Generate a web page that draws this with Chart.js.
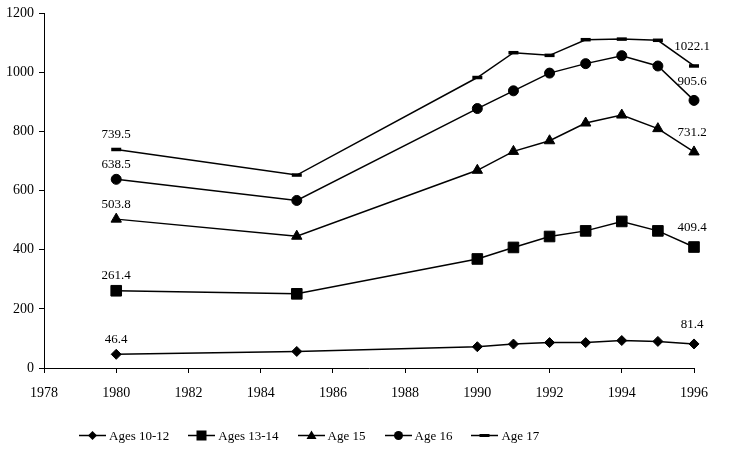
<!DOCTYPE html>
<html>
<head>
<meta charset="utf-8">
<script src="https://cdn.jsdelivr.net/npm/chart.js@4.4.0/dist/chart.umd.min.js"></script>
<style>
  body { margin: 0; background: #fff; }
  #wrap { position: relative; width: 733px; height: 461px; }
  #legend {
    position: absolute; left: 79px; top: 422px;
    display: flex; gap: 19px;
    font-family: "Liberation Serif", serif; font-size: 13px; color: #000;
  }
  #legend .item { display: flex; align-items: center; }
  #legend svg { margin-right: 3px; }
</style>
</head>
<body>
<div id="wrap">
  <canvas id="chart" width="733" height="461"></canvas>
  <div id="legend"></div>
</div>
<script>
// data
const years = [1980, 1985, 1990, 1991, 1992, 1993, 1994, 1995, 1996];
const ages1012 = [46.4, 56, 72, 81, 86, 86, 93, 90, 81.4];
const ages1314 = [261.4, 251, 369, 408, 445, 464, 496, 464, 409.4];
const age15 = [503.8, 446, 669, 733, 769, 829, 856, 810, 731.2];
const age16 = [638.5, 567, 878, 938, 998, 1030, 1057, 1022, 905.6];
const age17 = [739.5, 653, 983, 1067, 1058, 1111, 1113, 1109, 1022.1];
const seriesNames = ['Ages 10-12', 'Ages 13-14', 'Age 15', 'Age 16', 'Age 17'];
const xTicks = [1978, 1980, 1982, 1984, 1986, 1988, 1990, 1992, 1994, 1996];
const yTicks = [0, 200, 400, 600, 800, 1000, 1200];

const font = 'Liberation Serif';

function series(label, values, style, radius, pbw) {
  return {
    label: label,
    data: values.map((v, i) => ({ x: years[i], y: v })),
    borderColor: '#000',
    backgroundColor: '#000',
    borderWidth: 1.5,
    pointStyle: style,
    pointRadius: radius,
    pointBorderWidth: pbw,
    pointBackgroundColor: '#000',
    pointBorderColor: '#000',
    tension: 0,
    clip: false,
  };
}

// labels at first and last point of each line
const endLabels = {
  id: 'endLabels',
  afterDatasetsDraw(chart) {
    const ctx = chart.ctx;
    ctx.save();
    ctx.font = '13px "' + font + '"';
    ctx.fillStyle = '#000';
    ctx.textAlign = 'center';
    ctx.textBaseline = 'middle';
    chart.data.datasets.forEach((ds, i) => {
      const pts = chart.getDatasetMeta(i).data;
      const first = pts[0], last = pts[pts.length - 1];
      ctx.fillText(ds.data[0].y.toFixed(1), first.x, first.y - 15);
      ctx.fillText(ds.data[ds.data.length - 1].y.toFixed(1), last.x - 2, last.y - 19);
    });
    ctx.restore();
  }
};

new Chart(document.getElementById('chart'), {
  type: 'line',
  data: {
    datasets: [
      series(seriesNames[0], ages1012, 'rectRot', 5, 1),
      series(seriesNames[1], ages1314, 'rect', 7.5, 1),
      series(seriesNames[2], age15, 'triangle', 6, 1),
      series(seriesNames[3], age16, 'circle', 5, 1),
      series(seriesNames[4], age17, 'line', 5, 3.5),
    ]
  },
  options: {
    responsive: false,
    animation: false,
    layout: { padding: { top: 12, right: 39, left: 0, bottom: 0 } },
    plugins: { legend: { display: false }, tooltip: { enabled: false } },
    scales: {
      x: {
        type: 'linear',
        min: 1978, max: 1996,
        afterBuildTicks: (s) => { s.ticks = xTicks.map(v => ({ value: v })); },
        afterFit: (s) => { s.height = 93; },
        ticks: { color: '#000', font: { family: font, size: 14 }, padding: 12, maxRotation: 0, callback: v => String(v) },
        grid: { drawOnChartArea: false, color: '#000', tickLength: 5 },
        border: { color: '#000', width: 1 }
      },
      y: {
        min: 0, max: 1200,
        afterBuildTicks: (s) => { s.ticks = yTicks.map(v => ({ value: v })); },
        afterFit: (s) => { s.width = 44; },
        ticks: { color: '#000', font: { family: font, size: 14 }, padding: 5, callback: v => String(v) },
        grid: { drawOnChartArea: false, color: '#000', tickLength: 5 },
        border: { color: '#000', width: 1 }
      }
    }
  },
  plugins: [endLabels]
});

// legend built as html below the plot
const markers = [
  '<polygon points="13.5,9 18,13.5 13.5,18 9,13.5"/>',
  '<rect x="8.5" y="8.5" width="10" height="10"/>',
  '<polygon points="13.5,8.5 18.5,17 8.5,17"/>',
  '<circle cx="13.5" cy="13.5" r="4.5"/>',
  '<rect x="8.5" y="12" width="10" height="3"/>'
];
const legend = document.getElementById('legend');
seriesNames.forEach((name, i) => {
  const item = document.createElement('div');
  item.className = 'item';
  item.innerHTML = '<svg width="27" height="27" fill="#000"><line x1="0" y1="13.5" x2="27" y2="13.5" stroke="#000" stroke-width="1.5"/>' +
    markers[i] + '</svg><span>' + name + '</span>';
  legend.appendChild(item);
});
</script>
</body>
</html>
